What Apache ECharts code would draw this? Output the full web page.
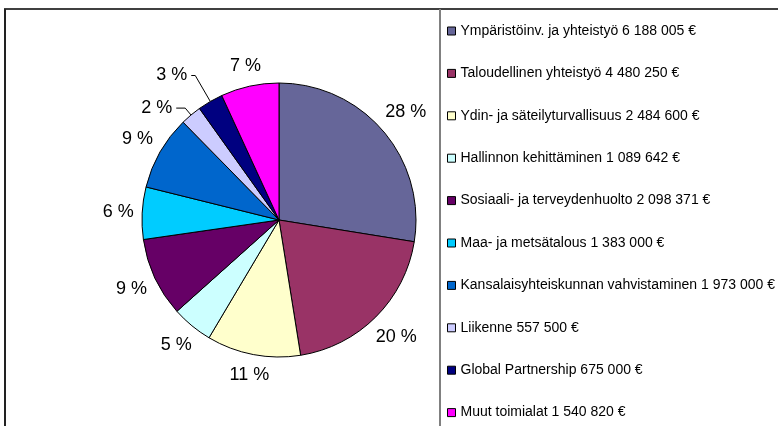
<!DOCTYPE html>
<html><head><meta charset="utf-8">
<script src="https://cdn.jsdelivr.net/npm/echarts@6/dist/echarts.min.js"></script>
<style>html,body{margin:0;padding:0;background:#fff}#c{width:778px;height:426px}</style>
</head><body><div id="c"></div>
<script>
const categories = [
  'Ympäristöinv. ja yhteistyö',
  'Taloudellinen yhteistyö',
  'Ydin- ja säteilyturvallisuus',
  'Hallinnon kehittäminen',
  'Sosiaali- ja terveydenhuolto',
  'Maa- ja metsätalous',
  'Kansalaisyhteiskunnan vahvistaminen',
  'Liikenne',
  'Global Partnership',
  'Muut toimialat'
];
const values = [6188005, 4480250, 2484600, 1089642, 2098371, 1383000, 1973000, 557500, 675000, 1540820];
const colors = ['#666699', '#993366', '#FFFFCC', '#CCFFFF', '#660066', '#00CCFF', '#0066CC', '#CCCCFF', '#000080', '#FF00FF'];
// slices whose percentage label is drawn with a leader line
const leaderLines = { 7: [9, 9], 8: [30, 4] };

function fmtAmount(v) {
  return String(v).replace(/\B(?=(\d{3})+(?!\d))/g, ' ') + ' €';
}

const data = categories.map((name, i) => {
  const item = { name: name, value: values[i], itemStyle: { color: colors[i] } };
  if (leaderLines[i]) {
    item.labelLine = { show: true, length: leaderLines[i][0], length2: leaderLines[i][1],
      lineStyle: { color: '#000', width: 1, opacity: 1 } };
  }
  return item;
});

const chart = echarts.init(document.getElementById('c'), null, { renderer: 'canvas' });
chart.setOption({
  animation: false,
  backgroundColor: '#fff',
  graphic: [
    { type: 'line', shape: { x1: 4, y1: 9, x2: 778, y2: 9 }, style: { stroke: '#000', lineWidth: 1.5 }, silent: true },
    { type: 'line', shape: { x1: 5, y1: 9, x2: 5, y2: 426 }, style: { stroke: '#222', lineWidth: 2 }, silent: true },
    { type: 'line', shape: { x1: 440, y1: 9, x2: 440, y2: 426 }, style: { stroke: '#808080', lineWidth: 2 }, silent: true }
  ],
  legend: {
    orient: 'vertical',
    left: 447,
    top: 24,
    padding: 0,
    itemWidth: 8,
    itemHeight: 8,
    itemGap: 28.4,
    icon: 'rect',
    selectedMode: false,
    itemStyle: { borderColor: '#000', borderWidth: 1 },
    textStyle: { fontFamily: 'Liberation Sans, Arial, sans-serif', fontSize: 14, lineHeight: 14, color: '#000' },
    formatter: function (name) {
      const i = categories.indexOf(name);
      return name + ' ' + fmtAmount(values[i]);
    },
    data: categories
  },
  series: [{
    type: 'pie',
    center: [279, 220],
    radius: 137,
    startAngle: 90,
    clockwise: true,
    avoidLabelOverlap: false,
    itemStyle: { borderColor: '#000', borderWidth: 1 },
    emphasis: { disabled: true },
    label: {
      show: true,
      position: 'outside',
      fontFamily: 'Liberation Sans, Arial, sans-serif',
      fontSize: 18,
      color: '#000',
      distanceToLabelLine: 4,
      formatter: function (p) { return Math.round(p.percent) + ' %'; }
    },
    labelLine: { show: true, length: 10, length2: 0, lineStyle: { opacity: 0 } },
    labelLayout: function (p) {
      if (leaderLines[p.dataIndex]) return {};
      const pts = p.labelLinePoints;
      if (!pts || pts.length < 2) return {};
      const vx = pts[1][0] - pts[0][0], vy = pts[1][1] - pts[0][1];
      const len = Math.hypot(vx, vy) || 1;
      const ux = vx / len, uy = vy / len;
      const w = p.labelRect.width, h = p.labelRect.height;
      const d = 8 + Math.abs(ux) * w / 2 + Math.abs(uy) * h / 2;
      return { x: pts[0][0] + ux * d, y: pts[0][1] + uy * d, align: 'center', verticalAlign: 'middle' };
    },
    data: data
  }]
});
</script>
</body></html>
